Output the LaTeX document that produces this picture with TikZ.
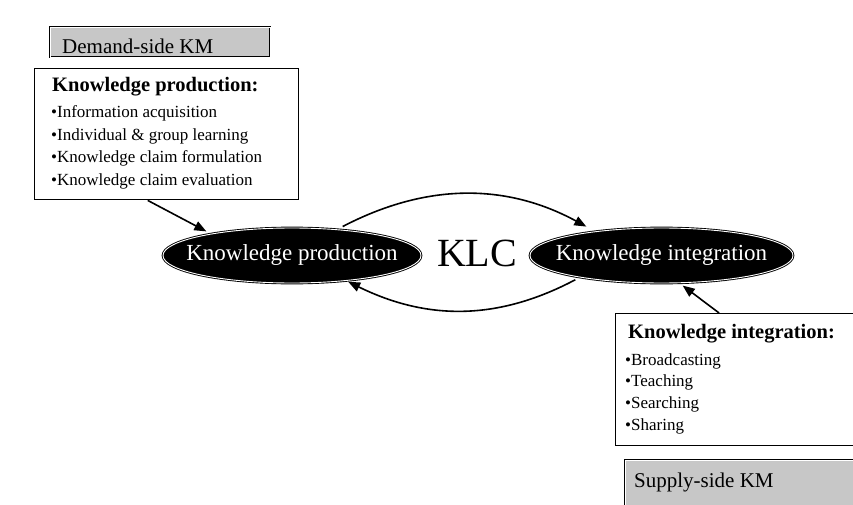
\documentclass[tikz,border=0pt]{standalone}
\usepackage{fontspec}
\setmainfont{Liberation Serif}
\usetikzlibrary{arrows.meta,shapes.geometric}
\tikzstyle{klcPlane} = [x=1pt, y=-1pt]
\tikzstyle{kmLabel} = [draw, double, double distance=1.2pt, fill=black!22, thin]
\tikzstyle{kmLabelText} = [font=\fontsize{21}{24}\selectfont, anchor=base west, inner sep=0pt]
\tikzstyle{listBox} = [draw, line width=1.4pt, fill=white]
\tikzstyle{listTitle} = [font=\bfseries\fontsize{20.5}{24}\selectfont, anchor=base west, inner sep=0pt]
\tikzstyle{listItem} = [font=\fontsize{17}{20}\selectfont, anchor=base west, inner sep=0pt]
\tikzstyle{klcEllipse} = [ellipse, fill=black, draw=black, double=white, double distance=0.9pt, line width=0.9pt, text=white, font=\fontsize{23}{25}\selectfont, inner sep=0pt]
\tikzstyle{klcArrow} = [line width=1.6pt, -{Triangle[length=12pt, width=9.5pt]}]
\newcommand{\klcPhase}[1]{\makebox[0pt]{#1}}

\begin{document}
\begin{tikzpicture}[klcPlane]
  \useasboundingbox (0,0) rectangle (853,505);
  \clip (0,0) rectangle (853,505);
  \fill[white] (0,0) rectangle (853,505);

  \node[kmLabel, anchor=north west, minimum width=220pt, minimum height=30pt] (demandBox) at (50,27) {};
  \node[kmLabelText] (demandText) at (62,54) {Demand-side KM};

  \node[listBox, anchor=north west, minimum width=264pt, minimum height=131pt] (prodBox) at (34,68) {};
  \node[listTitle] (prodTitle) at (52,92) {Knowledge production:};
  \foreach \itemText [count=\i] in {Information acquisition, Individual \& group learning, Knowledge claim formulation, Knowledge claim evaluation}
    \node[listItem] (prodItem\i) at (51, {95.5 + 22.5*\i}) {\textbullet\itemText};

  \node[klcEllipse, minimum width=258pt, minimum height=55pt] (prodEllipse) at (292,255.5) {\klcPhase{Knowledge production}};
  \node[klcEllipse, minimum width=263pt, minimum height=55pt] (intEllipse) at (661.5,255.5) {\klcPhase{Knowledge integration}};
  \node[font=\fontsize{40}{40}\selectfont, anchor=base, inner sep=0pt] (klcLabel) at (477,266) {KLC};

  \draw[klcArrow, shorten <=6pt, shorten >=10pt] (prodEllipse.30) to[bend left=28] (intEllipse.160);
  \draw[klcArrow, shorten <=5pt, shorten >=2pt] (intEllipse.195) to[bend left=27] (prodEllipse.335);
  \draw[klcArrow, shorten >=5pt] (prodBox.254) -- (prodEllipse.165);

  \node[listBox, anchor=north west, minimum width=258pt, minimum height=132pt] (intBox) at (615,313) {};
  \node[listTitle] (intTitle) at (628,338) {Knowledge integration:};
  \foreach \itemText [count=\i] in {Broadcasting, Teaching, Searching, Sharing}
    \node[listItem] (intItem\i) at (625, {343.3 + 21.7*\i}) {\textbullet\itemText};
  \draw[klcArrow, shorten >=4pt] (intBox.111.5) -- (intEllipse.303);

  \node[kmLabel, anchor=north west, minimum width=250pt, minimum height=60pt] (supplyBox) at (625,460) {};
  \node[kmLabelText] (supplyText) at (634,487) {Supply-side KM};
\end{tikzpicture}
\end{document}
